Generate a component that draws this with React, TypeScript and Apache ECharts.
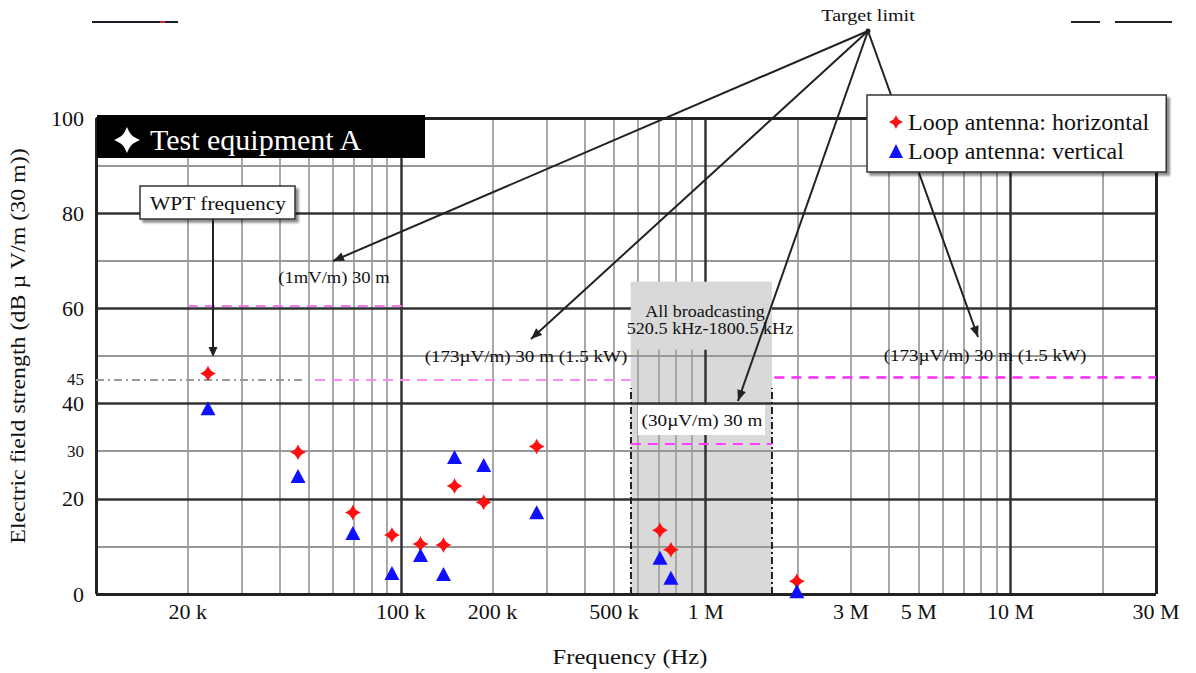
import React, { useEffect, useRef } from 'react';
import * as echarts from 'echarts';

const FONT = '"Liberation Serif", "Times New Roman", Times, serif';

// ---------- axis ticks ----------
const xTickValues = [2e4, 1e5, 2e5, 5e5, 1e6, 3e6, 5e6, 1e7, 3e7];
const xTickLabels = ['20 k', '100 k', '200 k', '500 k', '1 M', '3 M', '5 M', '10 M', '30 M'];
const yTickValues = [0, 20, 30, 40, 45, 60, 80, 100];
const ySmallTicks = [30, 45];

// ---------- grid lines ----------
const xMinorGrid = [
  2e4, 3e4, 4e4, 5e4, 6e4, 7e4, 8e4, 9e4,
  2e5, 3e5, 4e5, 5e5, 6e5, 7e5, 8e5, 9e5,
  2e6, 3e6, 4e6, 5e6, 6e6, 7e6, 8e6, 9e6,
  2e7,
];
const xMajorGrid = [1e5, 1e6, 1e7];
const yMinorGrid = [10, 30, 50, 70, 90];
const yMajorGrid = [20, 40, 60, 80];
const xBorder = [1e4, 3e7];
const yBorder = [0, 100];

// ---------- measured data ----------
const freqHorizontal = [23.3e3, 46.0e3, 69.6e3, 93.5e3, 116e3, 138e3, 150e3, 187e3, 279e3, 708e3, 769e3, 1.99e6];
const levelHorizontal = [46.3, 29.8, 17.1, 12.4, 10.5, 10.3, 22.7, 19.3, 31.0, 13.4, 9.3, 2.7];
const freqVertical = [23.3e3, 46.0e3, 69.6e3, 93.5e3, 116e3, 138e3, 150e3, 187e3, 279e3, 708e3, 769e3, 1.99e6];
const levelVertical = [39.0, 24.8, 12.8, 4.4, 8.2, 4.2, 28.8, 27.1, 17.2, 7.6, 3.4, 0.6];

// ---------- limit lines as drawn: [from Hz, to Hz, level] ----------
const limit1mV = [2e4, 1.03e5, 60.5];
const limit173Left = [5.23e4, 5.68e5, 45];
const limit173Right = [1.68e6, 3e7, 45.5];
const limit30uV = [5.68e5, 1.65e6, 31.5];
const ref45 = [1e4, 4.75e4, 45];
const broadcastBand = [5.68e5, 1.65e6];
const bandEdgeTop = 43.3;
const bandLabelBox = [51.3, 65.6];

const NAME_H = 'Loop antenna: horizontal';
const NAME_V = 'Loop antenna: vertical';

const STAR_PATH =
  'path://M0,-10 C2.6,-4 4,-2.6 10,0 C4,2.6 2.6,4 0,10 C-2.6,4 -4,2.6 -10,0 C-4,-2.6 -2.6,-4 0,-10Z';

let registered = false;
function registerShapes() {
  if (registered) return;
  registered = true;
  const Star4 = echarts.graphic.extendPath(
    'M0,-13 C3.5,-5 5,-3.5 13,0 C5,3.5 3.5,5 0,13 C-3.5,5 -5,3.5 -13,0 C-5,-3.5 -3.5,-5 0,-13Z',
    {}
  );
  echarts.graphic.registerShape('star4', Star4);
}

function arrowHead(x1: number, y1: number, x2: number, y2: number, len = 11, half = 4.5) {
  const dx = x2 - x1;
  const dy = y2 - y1;
  const d = Math.hypot(dx, dy);
  const ux = dx / d;
  const uy = dy / d;
  const bx = x2 - ux * len;
  const by = y2 - uy * len;
  return [
    [x2, y2],
    [bx - uy * half, by + ux * half],
    [bx + uy * half, by - ux * half],
  ];
}

function seg(s: number[]) {
  return [{ coord: [s[0], s[2]] }, { coord: [s[1], s[2]] }];
}

function markLineSeries(name: string, z: number, lineStyle: any, data: any[]) {
  return {
    type: 'line',
    name,
    data: [],
    silent: true,
    markLine: {
      silent: true,
      symbol: 'none',
      z,
      label: { show: false },
      emphasis: { disabled: true },
      lineStyle,
      data,
      animation: false,
    },
  };
}

function markAreaSeries(name: string, z: number, color: string, data: any[]) {
  return {
    type: 'line',
    name,
    data: [],
    silent: true,
    markArea: {
      silent: true,
      z,
      itemStyle: { color, borderWidth: 0 },
      label: { show: false },
      emphasis: { disabled: true },
      data,
      animation: false,
    },
  };
}

export default function App() {
  const ref = useRef<HTMLDivElement>(null);

  useEffect(() => {
    registerShapes();
    const chart = echarts.init(ref.current!, null, { renderer: 'svg' });

    const hub = [868, 31];
    const targets = [
      [333, 261],
      [531, 339],
      [738, 401],
      [978, 337],
    ];
    const targetEls: any[] = [];
    targets.forEach((t) => {
      targetEls.push({
        type: 'line',
        z: 8,
        shape: { x1: hub[0], y1: hub[1], x2: t[0], y2: t[1] },
        style: { stroke: '#222', lineWidth: 2 },
      });
      targetEls.push({
        type: 'polygon',
        z: 8,
        shape: { points: arrowHead(hub[0], hub[1], t[0], t[1]) },
        style: { fill: '#222' },
      });
    });

    const txt = (text: string, x: number, y: number, fontSize: number, scaleX: number, extra: any = {}) => ({
      type: 'text',
      x,
      y,
      scaleX,
      z: 14,
      style: {
        text,
        fontSize,
        fontFamily: FONT,
        fill: '#111',
        align: 'center',
        verticalAlign: 'middle',
        ...extra,
      },
    });

    const option: any = {
      animation: false,
      backgroundColor: '#ffffff',
      grid: { left: 96, right: 40, top: 118, bottom: 79, show: false },
      xAxis: {
        type: 'log',
        logBase: 10,
        min: 1e4,
        max: 3e7,
        axisLine: { show: false },
        axisTick: { show: false },
        splitLine: { show: false },
        minorSplitLine: { show: false },
        axisLabel: {
          customValues: xTickValues,
          formatter: (v: number) => {
            const i = xTickValues.findIndex((t) => Math.abs(t - v) / t < 1e-6);
            if (i >= 0) return xTickLabels[i];
            return '';
          },
          fontFamily: FONT,
          fontSize: 22,
          color: '#111',
          margin: 6,
          hideOverlap: false,
          showMaxLabel: true,
          showMinLabel: true,
        },
      },
      yAxis: {
        type: 'value',
        min: 0,
        max: 100,
        interval: 10,
        axisLine: { show: false },
        axisTick: { show: false },
        splitLine: { show: false },
        axisLabel: {
          customValues: yTickValues,
          formatter: (v: number) => (ySmallTicks.includes(v) ? `{s|${v}}` : `{b|${v}}`),
          rich: {
            s: { fontSize: 17, fontFamily: FONT, color: '#111' },
            b: { fontSize: 22, fontFamily: FONT, color: '#111' },
          },
          margin: 12,
        },
      },
      legend: {
        show: true,
        data: [NAME_H, NAME_V],
        left: 867,
        top: 95,
        orient: 'vertical',
        backgroundColor: '#ffffff',
        borderColor: '#333',
        borderWidth: 1.5,
        borderRadius: 0,
        shadowColor: 'rgba(0,0,0,0.45)',
        shadowOffsetX: 3,
        shadowOffsetY: 3,
        shadowBlur: 2,
        padding: [15, 17, 9, 22],
        itemGap: 5,
        itemWidth: 14,
        itemHeight: 14,
        selectedMode: false,
        z: 10,
        textStyle: { fontFamily: FONT, fontSize: 24, color: '#111' },
      },
      series: [
        // shaded broadcast band (behind grid)
        markAreaSeries('band', 1, '#d9d9d9', [
          [{ coord: [broadcastBand[0], 0] }, { coord: [broadcastBand[1], bandLabelBox[1]] }],
        ]),
        // minor grid
        markLineSeries('gridMinorX', 2, { color: '#a8a8a8', width: 2, type: 'solid' },
          xMinorGrid.map((v) => ({ xAxis: v }))),
        markLineSeries('gridMinorY', 2, { color: '#989898', width: 2, type: 'solid' },
          yMinorGrid.map((v) => ({ yAxis: v }))),
        // major grid
        markLineSeries('gridMajor', 3, { color: '#333333', width: 2.5, type: 'solid' }, [
          ...xMajorGrid.map((v) => ({ xAxis: v })),
          ...yMajorGrid.map((v) => ({ yAxis: v })),
        ]),
        // band label box (opaque, above grid)
        markAreaSeries('bandLabel', 4, '#d9d9d9', [
          [{ coord: [broadcastBand[0], bandLabelBox[0]] }, { coord: [broadcastBand[1], bandLabelBox[1]] }],
        ]),
        // border
        markLineSeries('border', 5, { color: '#222222', width: 3, type: 'solid' }, [
          ...xBorder.map((v) => ({ xAxis: v })),
          ...yBorder.map((v) => ({ yAxis: v })),
        ]),
        // band edges (dash-dot)
        markLineSeries('bandEdges', 5, { color: '#222', width: 2, type: [7, 3, 2, 3] }, [
          [{ coord: [broadcastBand[0], 0] }, { coord: [broadcastBand[0], bandEdgeTop] }],
          [{ coord: [broadcastBand[1], 0] }, { coord: [broadcastBand[1], bandEdgeTop] }],
        ]),
        // reference 45 dash-dot
        markLineSeries('ref45', 5, { color: '#9a9a9a', width: 2, type: [8, 4, 2, 4] }, [seg(ref45)]),
        // limits
        markLineSeries('limit1mV', 5, { color: '#f07af0', width: 2, type: [10, 7] }, [seg(limit1mV)]),
        markLineSeries('limit173L', 5, { color: '#f58ef5', width: 2, type: [10, 7] }, [seg(limit173Left)]),
        markLineSeries('limit173R', 5, { color: '#ff2cff', width: 2.5, type: [10, 7] }, [seg(limit173Right)]),
        markLineSeries('limit30', 5, { color: '#ff40ff', width: 2, type: [10, 7] }, [seg(limit30uV)]),
        {
          type: 'scatter',
          name: NAME_H,
          z: 6,
          symbol: STAR_PATH,
          symbolSize: 16,
          itemStyle: { color: '#ff1010', opacity: 1 },
          data: freqHorizontal.map((f, i) => [f, levelHorizontal[i]]),
          silent: true,
        },
        {
          type: 'scatter',
          name: NAME_V,
          z: 6,
          symbol: 'triangle',
          symbolSize: [15, 14],
          itemStyle: { color: '#1010ff', opacity: 1 },
          data: freqVertical.map((f, i) => [f, levelVertical[i]]),
          silent: true,
        },
      ],
      graphic: [
        // scan artifacts at top
        { type: 'line', z: 8, shape: { x1: 92, y1: 22, x2: 178, y2: 22 }, style: { stroke: '#1c1c30', lineWidth: 2 } },
        { type: 'line', z: 8, shape: { x1: 160, y1: 22, x2: 165, y2: 22 }, style: { stroke: '#c82828', lineWidth: 2 } },
        { type: 'line', z: 8, shape: { x1: 1071, y1: 22, x2: 1100, y2: 22 }, style: { stroke: '#222', lineWidth: 2 } },
        { type: 'line', z: 8, shape: { x1: 1115, y1: 22, x2: 1172, y2: 22 }, style: { stroke: '#222', lineWidth: 2 } },
        // axis names
        {
          type: 'text', z: 14, x: 18, y: 346, rotation: Math.PI / 2, scaleX: 1.14,
          style: {
            text: 'Electric field strength (dB \u00b5 V/m (30 m))',
            fontSize: 21, fontFamily: FONT, fill: '#111', align: 'center', verticalAlign: 'middle',
          },
        },
        txt('Frequency (Hz)', 630, 657, 21, 1.17),
        // title box
        { type: 'rect', z: 20, shape: { x: 97, y: 115, width: 328, height: 43 }, style: { fill: '#000' } },
        { type: 'star4', z: 21, x: 127, y: 140, style: { fill: '#fff' } },
        {
          type: 'text', z: 21, x: 150, y: 139,
          style: { text: 'Test equipment A', fill: '#fff', fontSize: 30, fontFamily: FONT, verticalAlign: 'middle' },
        },
        // WPT frequency box + arrow
        {
          type: 'rect', z: 12, shape: { x: 140, y: 186, width: 155, height: 33 },
          style: { fill: '#fff', stroke: '#333', lineWidth: 1.5, shadowColor: 'rgba(0,0,0,0.45)', shadowOffsetX: 3, shadowOffsetY: 3, shadowBlur: 2 },
        },
        txt('WPT frequency', 218, 203, 19, 1.13),
        { type: 'line', z: 12, shape: { x1: 213, y1: 219, x2: 213, y2: 350 }, style: { stroke: '#222', lineWidth: 2 } },
        { type: 'polygon', z: 12, shape: { points: arrowHead(213, 219, 213, 357, 10, 4.5) }, style: { fill: '#222' } },
        // target limit
        txt('Target limit', 868, 15, 17, 1.18),
        { type: 'circle', z: 8, shape: { cx: hub[0], cy: hub[1], r: 2.5 }, style: { fill: '#222' } },
        ...targetEls,
        // annotation labels
        txt('(1mV/m) 30 m', 334, 278, 16, 1.16),
        txt('(173\u00b5V/m) 30 m (1.5 kW)', 526, 356, 17, 1.12),
        txt('(173\u00b5V/m) 30 m (1.5 kW)', 985, 355, 17, 1.12),
        txt('All broadcasting', 705, 311, 17, 1.06),
        txt('520.5 kHz-1800.5 kHz', 710, 328, 17, 1.07),
        { type: 'rect', z: 13, shape: { x: 638, y: 405, width: 127, height: 30 }, style: { fill: '#fff' } },
        txt('(30\u00b5V/m) 30 m', 702, 420, 17, 1.13),
      ],
    };

    chart.setOption(option);
    return () => {
      chart.dispose();
    };
  }, []);

  return (
    <div
      ref={ref}
      style={{ position: 'fixed', left: 0, top: 0, width: 1196, height: 673, background: '#fff' }}
    />
  );
}
